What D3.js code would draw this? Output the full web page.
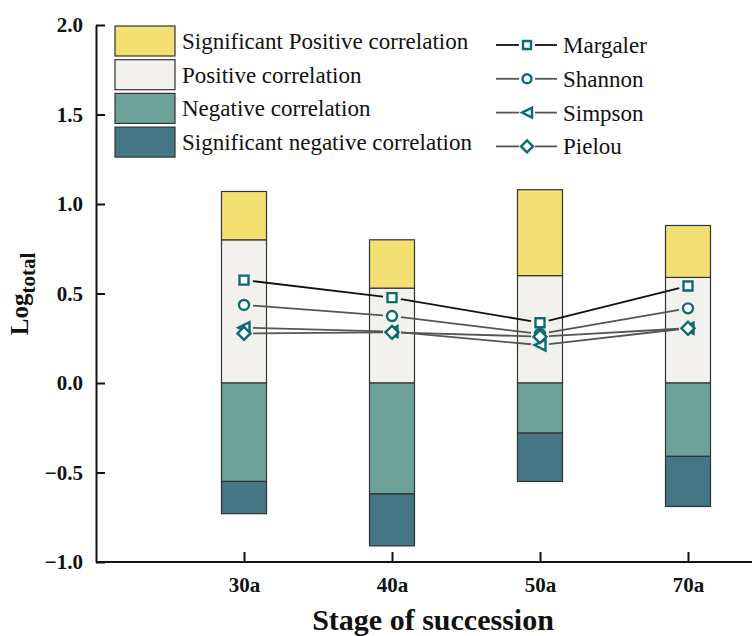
<!DOCTYPE html>
<html>
<head>
<meta charset="utf-8">
<script src="https://cdn.jsdelivr.net/npm/d3@7"></script>
<style>
  body { margin: 0; background: #fff; }
  svg { display: block; }
  text { font-family: "Liberation Serif", "Times New Roman", serif; }
</style>
</head>
<body>
<div id="chart"></div>
<script>
// Stages on the x axis
var stages = ["30a", "40a", "50a", "70a"];

// Stacked bar segments (lengths)
var positiveCorr = [0.80, 0.53, 0.60, 0.59];
var sigPositiveCorr = [0.27, 0.27, 0.48, 0.29];
var negativeCorr = [-0.55, -0.62, -0.28, -0.41];
var sigNegativeCorr = [-0.18, -0.29, -0.27, -0.28];

// Diversity indices
var margaler = [0.575, 0.477, 0.337, 0.542];
var shannon = [0.436, 0.374, 0.274, 0.417];
var simpson = [0.309, 0.287, 0.212, 0.306];
var pielou = [0.277, 0.283, 0.259, 0.306];

var yTicks = [-1.0, -0.5, 0.0, 0.5, 1.0, 1.5, 2.0];

var barKeys = ["Positive correlation", "Significant Positive correlation",
  "Negative correlation", "Significant negative correlation"];
var barColors = {
  "Significant Positive correlation": "#f4df72",
  "Positive correlation": "#f2f1ed",
  "Negative correlation": "#6da299",
  "Significant negative correlation": "#467586"
};
var legendBarOrder = ["Significant Positive correlation", "Positive correlation",
  "Negative correlation", "Significant negative correlation"];

var lineSeries = [
  { name: "Margaler", values: margaler, symbol: "square", stroke: "#111" },
  { name: "Shannon", values: shannon, symbol: "circle", stroke: "#555" },
  { name: "Simpson", values: simpson, symbol: "triangle", stroke: "#555" },
  { name: "Pielou", values: pielou, symbol: "diamond", stroke: "#555" }
];

var markerColor = "#0c6b6d";

var width = 752, height = 636;
var svg = d3.select("#chart").append("svg")
  .attr("width", width)
  .attr("height", height);

var x = d3.scalePoint().domain(stages).range([244, 688]);
var y = d3.scaleLinear().domain([-1, 2]).range([562, 25]);
var barW = 45;

// Build table for stack
var table = stages.map(function(s, i) {
  var row = { stage: s };
  row[barKeys[0]] = positiveCorr[i];
  row[barKeys[1]] = sigPositiveCorr[i];
  row[barKeys[2]] = negativeCorr[i];
  row[barKeys[3]] = sigNegativeCorr[i];
  return row;
});

var stacked = d3.stack().keys(barKeys).offset(d3.stackOffsetDiverging)(table);

// Bars
svg.append("g").selectAll("g")
  .data(stacked)
  .join("g")
  .attr("fill", function(d) { return barColors[d.key]; })
  .selectAll("rect")
  .data(function(d) { return d; })
  .join("rect")
  .attr("x", function(d) { return x(d.data.stage) - barW / 2; })
  .attr("y", function(d) { return y(Math.max(d[0], d[1])); })
  .attr("width", barW)
  .attr("height", function(d) { return Math.abs(y(d[0]) - y(d[1])); })
  .attr("stroke", "#333")
  .attr("stroke-width", 1.2);

// Axes
var yAxis = d3.axisLeft(y).tickValues(yTicks).tickSizeInner(-9).tickSizeOuter(0)
  .tickPadding(13).tickFormat(d3.format(".1f"));
var gy = svg.append("g").attr("transform", "translate(96,0)").call(yAxis);

var xAxis = d3.axisBottom(x).tickSizeInner(-10).tickSizeOuter(0).tickPadding(15);
var gx = svg.append("g").attr("transform", "translate(0,562)").call(xAxis);
gx.select(".domain").attr("d", "M96,0H752");

[gy, gx].forEach(function(g) {
  g.select(".domain").attr("stroke", "#111").attr("stroke-width", 2);
  g.selectAll(".tick line").attr("stroke", "#111").attr("stroke-width", 2);
  g.selectAll(".tick text")
    .attr("fill", "#111")
    .style("font-family", "'Liberation Serif', serif")
    .style("font-weight", "bold")
    .style("font-size", "21px");
});

// Axis titles
svg.append("text")
  .attr("x", 433)
  .attr("y", 630)
  .attr("text-anchor", "middle")
  .style("font-weight", "bold")
  .style("font-size", "30px")
  .attr("fill", "#111")
  .text("Stage of succession");

var yTitle = svg.append("text")
  .attr("transform", "translate(28,294) rotate(-90)")
  .attr("text-anchor", "middle")
  .style("font-weight", "bold")
  .style("font-size", "25px")
  .attr("fill", "#111");
yTitle.append("tspan").text("Log");
yTitle.append("tspan").attr("dy", 7).style("font-size", "21px").text("total");

// Symbol helper
function symbolPath(type, size) {
  var s = size;
  if (type === "square") return "M" + (-s) + "," + (-s) + "H" + s + "V" + s + "H" + (-s) + "Z";
  if (type === "circle") return d3.arc()({ innerRadius: 0, outerRadius: s + 0.5, startAngle: 0, endAngle: 2 * Math.PI });
  if (type === "triangle") return "M" + (-s - 1) + ",0L" + (s + 1) + "," + (-s - 1) + "V" + (s + 1) + "Z";
  if (type === "diamond") return "M0," + (-s - 2) + "L" + (s + 2) + ",0L0," + (s + 2) + "L" + (-s - 2) + ",0Z";
}

// Lines with gaps at markers
var gap = 9;
lineSeries.forEach(function(ser) {
  var pts = ser.values.map(function(v, i) { return [x(stages[i]), y(v)]; });
  for (var i = 0; i < pts.length - 1; i++) {
    var p0 = pts[i], p1 = pts[i + 1];
    var dx = p1[0] - p0[0], dy = p1[1] - p0[1];
    var len = Math.sqrt(dx * dx + dy * dy);
    var ux = dx / len, uy = dy / len;
    svg.append("line")
      .attr("x1", p0[0] + ux * gap).attr("y1", p0[1] + uy * gap)
      .attr("x2", p1[0] - ux * gap).attr("y2", p1[1] - uy * gap)
      .attr("stroke", ser.stroke)
      .attr("stroke-width", 1.8);
  }
});

lineSeries.forEach(function(ser) {
  svg.append("g").selectAll("path")
    .data(ser.values)
    .join("path")
    .attr("transform", function(d, i) { return "translate(" + x(stages[i]) + "," + y(d) + ")"; })
    .attr("d", symbolPath(ser.symbol, 4.5))
    .attr("fill", "#fff")
    .attr("stroke", markerColor)
    .attr("stroke-width", 2.4);
});

// Bar legend
var legBar = svg.append("g");
legendBarOrder.forEach(function(k, i) {
  var yy = 26 + i * 33.7;
  legBar.append("rect")
    .attr("x", 115).attr("y", yy)
    .attr("width", 60).attr("height", 30)
    .attr("fill", barColors[k])
    .attr("stroke", "#333")
    .attr("stroke-width", 1.2);
  legBar.append("text")
    .attr("x", 182).attr("y", yy + 15)
    .attr("dy", "0.35em")
    .style("font-size", "23px")
    .attr("fill", "#111")
    .text(k);
});

// Line legend
var legLine = svg.append("g");
lineSeries.forEach(function(ser, i) {
  var yy = 45 + i * 33.8;
  legLine.append("line")
    .attr("x1", 496).attr("x2", 519).attr("y1", yy).attr("y2", yy)
    .attr("stroke", ser.stroke).attr("stroke-width", 1.8);
  legLine.append("line")
    .attr("x1", 535).attr("x2", 557).attr("y1", yy).attr("y2", yy)
    .attr("stroke", ser.stroke).attr("stroke-width", 1.8);
  legLine.append("path")
    .attr("transform", "translate(527," + yy + ")")
    .attr("d", symbolPath(ser.symbol, 4))
    .attr("fill", "#fff")
    .attr("stroke", markerColor)
    .attr("stroke-width", 2.4);
  legLine.append("text")
    .attr("x", 563).attr("y", yy)
    .attr("dy", "0.35em")
    .style("font-size", "23px")
    .attr("fill", "#111")
    .text(ser.name);
});
</script>
</body>
</html>
